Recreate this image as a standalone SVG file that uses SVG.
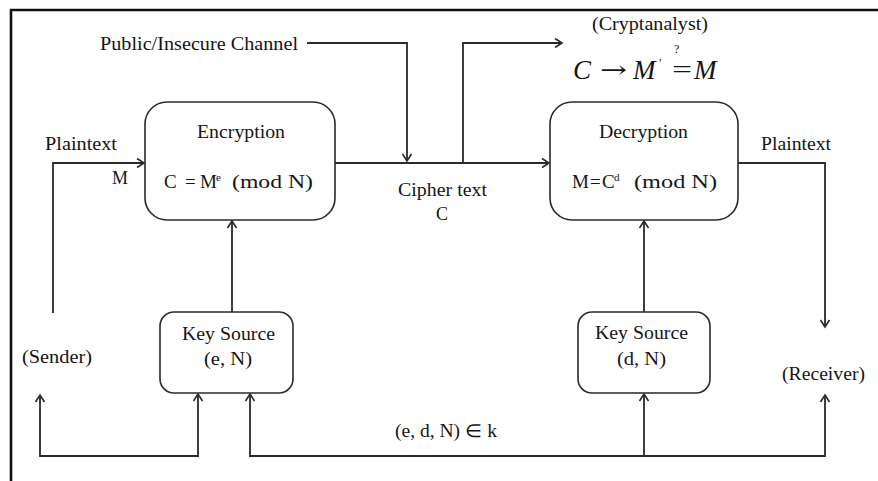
<svg xmlns="http://www.w3.org/2000/svg" width="878" height="481" viewBox="0 0 878 481">
<style>
text{font-family:"Liberation Serif","Times New Roman",serif;font-size:18px;fill:#151515}
.box{fill:#fff;stroke:#2a2a2a;stroke-width:1.6}
.c{fill:none;stroke:#2a2a2a;stroke-width:1.8}
.math{font-style:italic;font-size:27px}
.sup{font-size:11px}
</style>
<defs>
<marker id="ah" markerUnits="userSpaceOnUse" markerWidth="12" markerHeight="12" viewBox="-9 -6 10 12" refX="0" refY="0" orient="auto">
<path d="M-7,-4.5 L0,0 L-7,4.5" fill="none" stroke="#2a2a2a" stroke-width="1.6"/>
</marker>
</defs>
<rect width="878" height="481" fill="#fff"/>
<path d="M11,481 V10 H878" fill="none" stroke="#111" stroke-width="2.6"/>

<g id="connectors">
<path class="c" d="M53,313 V163 H144" marker-end="url(#ah)"/>
<path class="c" d="M307,43 H407 V161" marker-end="url(#ah)"/>
<path class="c" d="M335,163 H549" marker-end="url(#ah)"/>
<path class="c" d="M463,163 V43 H562" marker-end="url(#ah)"/>
<path class="c" d="M738,163 H825 V327" marker-end="url(#ah)"/>
<path class="c" d="M232,312 V221" marker-end="url(#ah)"/>
<path class="c" d="M644,312 V221" marker-end="url(#ah)"/>
<path class="c" d="M120,456 H40 V395" marker-end="url(#ah)"/>
<path class="c" d="M120,456 H198 V394" marker-end="url(#ah)"/>
<path class="c" d="M644,456 H250 V394" marker-end="url(#ah)"/>
<path class="c" d="M644,456 H825 V395" marker-end="url(#ah)"/>
<path class="c" d="M644,456 V394" marker-end="url(#ah)"/>
</g>

<g id="labels">
<text x="100" y="50" textLength="198" lengthAdjust="spacingAndGlyphs">Public/Insecure Channel</text>
<text x="45" y="150" textLength="72" lengthAdjust="spacingAndGlyphs">Plaintext</text>
<text x="112" y="184">M</text>
<text x="398" y="196" textLength="89" lengthAdjust="spacingAndGlyphs">Cipher text</text>
<text x="436" y="220">C</text>
<text x="761" y="150" textLength="70" lengthAdjust="spacingAndGlyphs">Plaintext</text>
<text x="395" y="437" textLength="102" lengthAdjust="spacingAndGlyphs">(e, d, N) ∈ k</text>
</g>

<g id="cryptanalyst">
<text x="592" y="30" textLength="116" lengthAdjust="spacingAndGlyphs">(Cryptanalyst)</text>
<text class="math" x="573" y="79">C</text>
<text x="600" y="78" style="font-family:'DejaVu Serif',serif;font-size:24px" textLength="27" lengthAdjust="spacingAndGlyphs">→</text>
<text class="math" x="633" y="79">M</text>
<text x="659" y="67" style="font-size:12px">′</text>
<text x="672" y="78" style="font-size:25px" textLength="20" lengthAdjust="spacingAndGlyphs">=</text>
<text x="674" y="53" style="font-size:12px">?</text>
<text class="math" x="694" y="79">M</text>
</g>

<g id="sender">
<text x="22" y="363" textLength="70" lengthAdjust="spacingAndGlyphs">(Sender)</text>
</g>

<g id="receiver">
<text x="782" y="380" textLength="83" lengthAdjust="spacingAndGlyphs">(Receiver)</text>
</g>

<g id="encryption">
<rect class="box" x="145" y="102" width="190" height="118" rx="22"/>
<text x="197" y="138" textLength="88" lengthAdjust="spacingAndGlyphs">Encryption</text>
<text y="188" style="font-size:19px"><tspan x="164">C</tspan><tspan x="185">=</tspan><tspan x="200">M</tspan><tspan x="216" dy="-7" class="sup">e</tspan><tspan x="232" dy="7" textLength="81" lengthAdjust="spacingAndGlyphs">(mod N)</tspan></text>
</g>

<g id="decryption">
<rect class="box" x="550" y="102" width="188" height="118" rx="22"/>
<text x="599" y="138" textLength="89" lengthAdjust="spacingAndGlyphs">Decryption</text>
<text y="188" style="font-size:19px"><tspan x="572">M</tspan><tspan x="590">=</tspan><tspan x="602">C</tspan><tspan x="614" dy="-7" class="sup">d</tspan><tspan x="634" dy="7" textLength="83" lengthAdjust="spacingAndGlyphs">(mod N)</tspan></text>
</g>

<g id="keysource-e">
<rect class="box" x="160" y="312" width="133" height="81" rx="14"/>
<text x="182" y="340" textLength="93" lengthAdjust="spacingAndGlyphs">Key Source</text>
<text x="204" y="365" textLength="48" lengthAdjust="spacingAndGlyphs">(e, N)</text>
</g>

<g id="keysource-d">
<rect class="box" x="578" y="312" width="132" height="81" rx="14"/>
<text x="595" y="339" textLength="93" lengthAdjust="spacingAndGlyphs">Key Source</text>
<text x="617" y="365" textLength="49" lengthAdjust="spacingAndGlyphs">(d, N)</text>
</g>
</svg>
